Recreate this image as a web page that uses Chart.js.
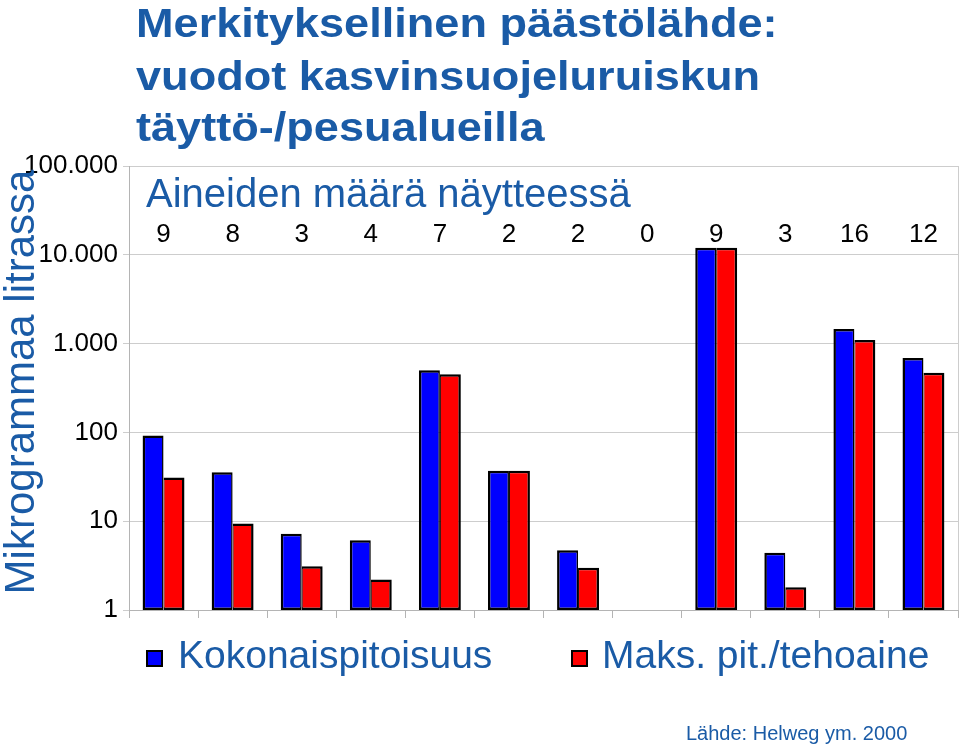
<!DOCTYPE html>
<html>
<head>
<meta charset="utf-8">
<title>Merkityksellinen päästölähde</title>
<script src="https://cdn.jsdelivr.net/npm/chart.js@4.4.0/dist/chart.umd.min.js"></script>
<style>
  html, body { margin: 0; padding: 0; background: #fff; }
  #wrap { width: 960px; height: 746px; }
</style>
</head>
<body>
<div id="wrap"><canvas id="leak-chart" width="960" height="746"></canvas></div>
<script>
// data
const sites = ['1', '2', '3', '4', '5', '6', '7', '8', '9', '10', '11', '12'];
const totalConc = [92, 35.6, 7.2, 6.1, 500, 37, 4.7, null, 12000, 4.4, 1460, 690];   // Kokonaispitoisuus
const maxConc = [31, 9.4, 3.1, 2.2, 452, 37, 3.0, null, 12000, 1.8, 1100, 470];     // Maks. pit./tehoaine
const substanceCounts = [9, 8, 3, 4, 7, 2, 2, 0, 9, 3, 16, 12];
const yTicks = [1, 10, 100, 1000, 10000, 100000];
const yTickLabels = ['1', '10', '100', '1.000', '10.000', '100.000'];

const titleLines = ['Merkityksellinen päästölähde:', 'vuodot kasvinsuojeluruiskun', 'täyttö-/pesualueilla'];
const seriesNames = ['Kokonaispitoisuus', 'Maks. pit./tehoaine'];

const BLUE_TEXT = '#1a5ba6';
const FONT = "'Liberation Sans', Arial, sans-serif";

// right frame line of the plot
const plotFrame = {
  id: 'plotFrame',
  beforeDatasetsDraw(chart) {
    const { ctx, chartArea } = chart
    ctx.save()
    ctx.strokeStyle = '#cdcdcd'
    ctx.lineWidth = 1
    ctx.beginPath()
    ctx.moveTo(chartArea.right + 0.5, chartArea.top)
    ctx.lineTo(chartArea.right + 0.5, chartArea.bottom)
    ctx.stroke()
    ctx.restore()
  },
}

// extra texts: title, counts row, y title, legend, source
const extraText = {
  id: 'extraText',
  afterDraw(chart) {
    const ctx = chart.ctx
    const x = chart.scales.x

    ctx.save()
    // title, a bit wider than plain bold
    ctx.fillStyle = BLUE_TEXT
    ctx.textAlign = 'left'
    ctx.textBaseline = 'alphabetic'
    ctx.font = 'bold 41px ' + FONT
    const baselines = [37, 90, 141]
    titleLines.forEach((line, i) => {
      ctx.save()
      ctx.translate(136, baselines[i])
      ctx.scale(1.1, 1)
      ctx.fillText(line, 0, 0)
      ctx.restore()
    })

    // subtitle inside the plot
    ctx.font = '40px ' + FONT
    ctx.fillText('Aineiden määrä näytteessä', 146, 207)

    // number of substances per sample
    ctx.fillStyle = '#000'
    ctx.textAlign = 'center'
    ctx.font = '26px ' + FONT
    substanceCounts.forEach((n, i) => {
      ctx.fillText(String(n), x.getPixelForValue(i), 242)
    })

    // y axis title
    ctx.save()
    ctx.translate(34, 382)
    ctx.rotate(-Math.PI / 2)
    ctx.fillStyle = BLUE_TEXT
    ctx.font = '42px ' + FONT
    ctx.fillText('Mikrogrammaa litrassa', 0, 0)
    ctx.restore()

    // legend
    const legendItems = [
      { box: 146, text: 178 },
      { box: 571, text: 602 },
    ]
    ctx.font = '39px ' + FONT
    ctx.textAlign = 'left'
    legendItems.forEach((item, i) => {
      const ds = chart.data.datasets[i]
      ctx.fillStyle = '#000'
      ctx.fillRect(item.box, 650, 17, 17)
      ctx.fillStyle = ds.backgroundColor
      ctx.fillRect(item.box + 2, 652, 13, 13)
      ctx.fillStyle = BLUE_TEXT
      ctx.fillText(seriesNames[i], item.text, 668)
    })

    // source
    ctx.font = '20px ' + FONT
    ctx.fillText('Lähde: Helweg ym. 2000', 686, 740)
    ctx.restore()
  },
}

const ctx = document.getElementById('leak-chart').getContext('2d')

const leakChart = new Chart(ctx, {
  type: 'bar',
  data: {
    labels: sites,
    datasets: [
      {
        label: seriesNames[0],
        data: totalConc,
        backgroundColor: '#0000ff',
        borderColor: '#000',
        borderWidth: { left: 2.5, top: 2.5, right: 1.5, bottom: 2.5 },
        borderSkipped: false,
      },
      {
        label: seriesNames[1],
        data: maxConc,
        backgroundColor: '#ff0000',
        borderColor: '#000',
        borderWidth: { left: 1, top: 2.5, right: 2.5, bottom: 2.5 },
        borderSkipped: false,
      },
    ],
  },
  options: {
    responsive: false,
    animation: false,
    devicePixelRatio: 1,
    categoryPercentage: 0.607,
    barPercentage: 1.0,
    layout: {
      padding: { top: 166, bottom: 126, left: 0, right: 2 },
    },
    scales: {
      x: {
        grid: {
          offset: true,
          drawOnChartArea: false,
          drawTicks: true,
          tickLength: 8,
          color: '#b4b4b4',
        },
        border: { display: true, color: '#b4b4b4' },
        ticks: { display: false },
        afterFit(scale) {
          scale.height = 10
        },
      },
      y: {
        type: 'logarithmic',
        min: 1,
        max: 100000,
        afterBuildTicks(axis) {
          axis.ticks = yTicks.map(v => ({ value: v }))
        },
        afterFit(scale) {
          scale.width = 129
        },
        grid: {
          color: '#cdcdcd',
          tickLength: 6,
        },
        border: { display: true, color: '#b4b4b4' },
        ticks: {
          color: '#000',
          padding: 5,
          font: { family: FONT, size: 26 },
          callback: function (value) {
            return yTickLabels[yTicks.indexOf(value)]
          },
        },
      },
    },
    plugins: {
      legend: { display: false },
      title: { display: false },
      tooltip: { enabled: false },
    },
  },
  plugins: [plotFrame, extraText],
})
</script>
</body>
</html>
